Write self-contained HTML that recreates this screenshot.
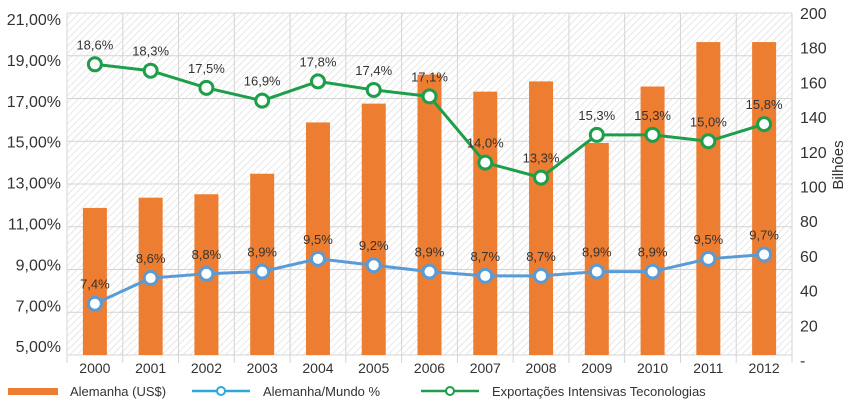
<!DOCTYPE html>
<html><head><meta charset="utf-8"><style>
body{margin:0;background:#fff;}
svg text{font-family:"Liberation Sans",sans-serif;fill:#333;}
</style></head><body>
<svg id="chart" width="850" height="407" xmlns="http://www.w3.org/2000/svg">
<defs>
<pattern id="hatch" width="5" height="5" patternUnits="userSpaceOnUse" patternTransform="rotate(45)">
<rect width="5" height="5" fill="#fff"/><line x1="0" y1="0" x2="0" y2="5" stroke="#d9d9d9" stroke-width="1.2"/>
</pattern>
</defs>
<rect x="67" y="13" width="725" height="342" fill="url(#hatch)"/>
<g id="grid"></g><g id="bars"></g><g id="lines"></g><g id="axes"></g>
<text transform="translate(843,165) rotate(-90)" text-anchor="middle" font-size="15">Bilhões</text>
<g>
<rect x="8" y="388" width="50" height="7" fill="#ED7D31"/>
<text x="70" y="396" font-size="13">Alemanha (US$)</text>
<line x1="192" y1="391" x2="250" y2="391" stroke="#2FA8D8" stroke-width="2.5"/>
<circle cx="221" cy="391" r="4" fill="#fff" stroke="#2FA8D8" stroke-width="2"/>
<text x="263" y="396" font-size="13">Alemanha/Mundo %</text>
<line x1="421" y1="391" x2="479" y2="391" stroke="#1E9E4A" stroke-width="2.5"/>
<circle cx="450" cy="391" r="4" fill="#fff" stroke="#1E9E4A" stroke-width="2"/>
<text x="492" y="396" font-size="13">Exportações Intensivas Teconologias</text>
</g>
</svg>
<script>
const years=["2000","2001","2002","2003","2004","2005","2006","2007","2008","2009","2010","2011","2012"];
const barValues=[86,92,94,106,136,147,164,154,160,124,157,183,183];
const greenValues=[18.6,18.3,17.5,16.9,17.8,17.4,17.1,14.0,13.3,15.3,15.3,15.0,15.8];
const blueValues=[7.4,8.6,8.8,8.9,9.5,9.2,8.9,8.7,8.7,8.9,8.9,9.5,9.7];
const leftTicks=[21,19,17,15,13,11,9,7,5];
const rightTicks=[200,180,160,140,120,100,80,60,40,20,0];
const NS="http://www.w3.org/2000/svg";
const L=67,R=792,T=13,B=355,bw=(R-L)/years.length;
const xC=i=>L+bw*(i+0.5);
const yL=v=>T+(21-v)*(B-T)/16;
const yR=v=>B-v*(B-T)/200;
function mk(tag,attrs,parent){const e=document.createElementNS(NS,tag);for(const k in attrs)e.setAttribute(k,attrs[k]);document.getElementById(parent).appendChild(e);return e;}
// grid
leftTicks.forEach(v=>{const e=mk('line',{x1:L,x2:R,y1:yL(v),y2:yL(v),stroke:'#d4d4d4','stroke-width':1},'grid');

});
for(let i=0;i<=years.length;i++){const e=mk('line',{x1:L+bw*i,x2:L+bw*i,y1:T,y2:B+8,stroke:'#d4d4d4','stroke-width':1},'grid');

}
// bars
barValues.forEach((v,i)=>{const e=mk('rect',{x:xC(i)-12,y:yR(v),width:24,height:B-yR(v),fill:'#ED7D31'},'bars');

});
function series(vals,color,name){
 const pts=vals.map((v,i)=>xC(i)+','+yL(v)).join(' ');
 const pl=mk('polyline',{points:pts,fill:'none',stroke:color,'stroke-width':3},'lines');
 
 
 vals.forEach((v,i)=>{
  const c=mk('circle',{cx:xC(i),cy:yL(v),r:6.5,fill:'#fff',stroke:color,'stroke-width':3},'lines');
  
  
  const t=mk('text',{x:xC(i),y:yL(v)-15,'text-anchor':'middle','font-size':13},'lines');
  t.textContent=v.toFixed(1).replace('.',',')+'%';
  
  
 });
}
series(greenValues,'#1E9E4A','green');
series(blueValues,'#5B9BD5','blue');
// axes labels
leftTicks.forEach((v,k)=>{const t=mk('text',{x:61,y:19+k*40.9+6,'text-anchor':'end','font-size':16},'axes');
t.textContent=v.toFixed(2).replace('.',',')+'%';

});
rightTicks.forEach((v,k)=>{const t=mk('text',{x:800,y:13+k*34.7+6,'font-size':16},'axes');
t.textContent=v===0?'-':String(v);

});
years.forEach((y,i)=>{const t=mk('text',{x:xC(i),y:373,'text-anchor':'middle','font-size':14},'axes');
t.textContent=y;

});
</script>
</body></html>
